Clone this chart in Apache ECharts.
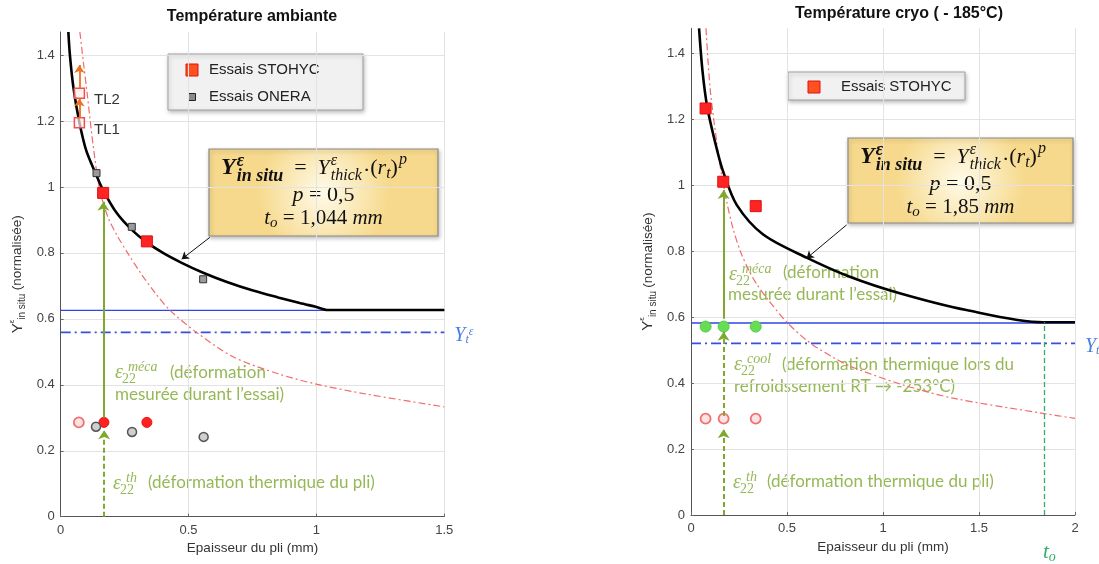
<!DOCTYPE html>
<html>
<head>
<meta charset="utf-8">
<title>Y in situ</title>
<script src="https://cdn.jsdelivr.net/npm/echarts@6.0.0/dist/echarts.min.js"></script>
<style>
  html, body { margin: 0; padding: 0; background: #fff; }
  #main { width: 1099px; height: 564px; }
</style>
</head>
<body>
<div id="main"></div>
<script>
// ---- ticks ----
const xTicksAmb = [0, 0.5, 1, 1.5]
const xTicksCryo = [0, 0.5, 1, 1.5, 2]
const yTicks = [0, 0.2, 0.4, 0.6, 0.8, 1, 1.2, 1.4]

// ---- Température ambiante ----
const ambFitCurve = [[0.030, 1.47], [0.036, 1.40], [0.050, 1.30], [0.072, 1.20], [0.100, 1.11], [0.140, 1.035], [0.166, 0.99], [0.220, 0.920], [0.278, 0.870], [0.337, 0.832], [0.400, 0.800], [0.473, 0.770], [0.557, 0.740], [0.650, 0.712], [0.752, 0.686], [0.850, 0.665], [0.935, 0.648], [1.000, 0.636], [1.045, 0.627], [1.5, 0.627]]
const ambRefCurve = [[0.075, 1.47], [0.090, 1.37], [0.104, 1.28], [0.127, 1.125], [0.153, 0.99], [0.185, 0.908], [0.219, 0.855], [0.264, 0.797], [0.316, 0.735], [0.370, 0.678], [0.427, 0.626], [0.531, 0.559], [0.674, 0.485], [0.844, 0.435], [1.0, 0.402], [1.195, 0.372], [1.5, 0.333]]
const ambYtLine = [[0, 0.626], [1.5, 0.626]]
const ambYtDash = [[0, 0.559], [1.5, 0.559]]
const ambStohyc = [[0.166, 0.982], [0.337, 0.835]]
const tlNames = ['TL1', 'TL2']
const tlPoints = [[0.073, 1.195], [0.073, 1.284]]
const ambOnera = [[0.140, 1.042], [0.278, 0.879], [0.557, 0.720]]
const ambThOpen = [[0.071, 0.286]]
const ambThRed = [[0.169, 0.286], [0.337, 0.286]]
const ambThOnera = [[0.138, 0.273], [0.279, 0.257], [0.559, 0.242]]
const tlArrows = [[[0.073, 1.21], [0.073, 1.268]], [[0.073, 1.30], [0.073, 1.37]]]
const ambMecaArrow = [[[0.167, 0.30], [0.167, 0.955]]]
const ambThArrow = [[[0.170, 0], [0.170, 0.262]]]
const ambPointer = [[[0.583, 0.847], [0.473, 0.781]]]

// ---- Température cryo ----
const cryoFitCurve = [[0.042, 1.475], [0.060, 1.345], [0.085, 1.235], [0.134, 1.110], [0.168, 1.040], [0.238, 0.940], [0.376, 0.850], [0.602, 0.780], [0.827, 0.722], [1.087, 0.672], [1.434, 0.621], [1.833, 0.584], [2.0, 0.584]]
const cryoRefCurve = [[0.078, 1.475], [0.100, 1.29], [0.134, 1.13], [0.151, 1.06], [0.186, 0.95], [0.220, 0.866], [0.260, 0.795], [0.307, 0.735], [0.342, 0.700], [0.394, 0.658], [0.498, 0.585], [0.619, 0.522], [0.758, 0.472], [0.845, 0.447], [1.106, 0.394], [1.365, 0.354], [1.833, 0.308], [2.0, 0.293]]
const cryoYtLine = [[0, 0.582], [2, 0.582]]
const cryoYtDash = [[0, 0.52], [2, 0.52]]
const cryoStohyc = [[0.076, 1.232], [0.168, 1.01], [0.337, 0.936]]
const cryoCool = [[0.076, 0.571], [0.170, 0.571], [0.337, 0.571]]
const cryoTh = [[0.076, 0.292], [0.170, 0.292], [0.337, 0.292]]
const cryoMecaArrow = [[[0.170, 0.595], [0.170, 0.985]]]
const cryoCoolArrow = [[[0.170, 0.30], [0.170, 0.555]]]
const cryoThArrow = [[[0.170, 0], [0.170, 0.26]]]
const cryoT0Line = [[[1.84, 0], [1.84, 0.584]]]
const cryoPointer = [[[0.81, 0.879], [0.602, 0.778]]]

const GREEN = '#96b857'
const GREEN_ARROW = '#7fa82e'
const BLUE = '#4a7fe0'
const serif = '"Liberation Serif", "DejaVu Serif", serif'
const sans = '"Liberation Sans", Arial, sans-serif'
const body = 'Lato, "Open Sans", sans-serif'

var myChart = echarts.init(document.getElementById('main'))

const mctx = document.createElement('canvas').getContext('2d')
function tw(text, font) {
  mctx.font = font
  return mctx.measureText(text).width
}

function txt(x, y, text, font, color, align) {
  return {
    type: 'text', x: x, y: y, silent: true,
    style: {
      text: text, font: font, fill: color || '#000',
      textAlign: align || 'left', align: align || 'left',
      textVerticalAlign: 'middle', verticalAlign: 'middle',
    },
  }
}

// lays out a row of math pieces; stacked sup/sub share one slot
function mathLine(x0, y, pieces, color, centered) {
  const widths = pieces.map(function (p) {
    if (p.gap) return p.gap
    if (p.t) return tw(p.t, p.f)
    return Math.max(p.sup ? tw(p.sup, p.f) : 0, p.sub ? tw(p.sub, p.f) : 0)
  })
  let x = centered ? x0 - widths.reduce(function (a, b) { return a + b }, 0) / 2 : x0
  const out = []
  pieces.forEach(function (p, i) {
    if (p.t) out.push(txt(x, y + (p.dy || 0), p.t, p.f, color))
    if (p.sup) out.push(txt(x, y - (p.up || 7), p.sup, p.f, color))
    if (p.sub) out.push(txt(x, y + (p.down || 7), p.sub, p.f, color))
    x += widths[i]
  })
  return out
}

// epsilon_22 with a superscript
function eps(x, y, sup) {
  return [
    txt(x, y, 'ε', 'italic 20px ' + serif, GREEN),
    txt(x + 7, y + 6, '22', '14px ' + serif, GREEN),
    txt(x + 13, y - 6, sup, 'italic 14px ' + serif, GREEN),
  ]
}

function formulaBox(x, y, w, h, t0) {
  const F = function (s) { return s + 'px ' + serif }
  const line1 = mathLine(12, 19, [
    { t: 'Y', f: 'italic bold ' + F(24) },
    { gap: 1 },
    { sup: 'ε', sub: 'in situ', f: 'italic bold ' + F(18), up: 7, down: 8 },
    { gap: 11 },
    { t: '=', f: F(22) },
    { gap: 11 },
    { t: 'Y', f: 'italic ' + F(22) },
    { gap: 1 },
    { sup: 'ε', sub: 'thick', f: 'italic ' + F(16), up: 7, down: 8 },
    { gap: 1 },
    { t: '·', f: F(22), dy: 3 },
    { t: '(', f: F(22) },
    { t: 'r', f: 'italic ' + F(22) },
    { sub: 't', f: 'italic ' + F(16), down: 6 },
    { t: ')', f: F(22) },
    { gap: 1 },
    { sup: 'p', f: 'italic ' + F(16), up: 8 },
  ], '#111', false)
  const line2 = mathLine(w / 2, 46, [
    { t: 'p', f: 'italic ' + F(22) },
    { t: ' = 0,5', f: F(22) },
  ], '#111', true)
  const line3 = mathLine(w / 2, 69, [
    { t: 't', f: 'italic ' + F(21) },
    { sub: 'o', f: 'italic ' + F(15), down: 5 },
    { t: ' = ' + t0 + ' ', f: F(21) },
    { t: 'mm', f: 'italic ' + F(21) },
  ], '#111', true)
  return {
    type: 'group', x: x, y: y,
    children: [{
      type: 'rect', shape: { x: 0, y: 0, width: w, height: h },
      style: {
        fill: new echarts.graphic.RadialGradient(0.5, 0.5, 0.75, [
          { offset: 0, color: '#fffbea' },
          { offset: 1, color: '#f6d98c' },
        ]),
        stroke: '#8a8a8a', lineWidth: 1.2,
        shadowBlur: 4, shadowColor: 'rgba(0,0,0,0.25)', shadowOffsetX: 1, shadowOffsetY: 2,
      },
    }].concat(line1, line2, line3),
  }
}

function legendBox(x, y, w, h, items) {
  const children = [{
    type: 'rect', shape: { x: 0, y: 0, width: w, height: h },
    style: { fill: '#f1f1f1', stroke: '#a0a0a0', lineWidth: 1, shadowBlur: 4, shadowColor: 'rgba(0,0,0,0.25)', shadowOffsetX: 1, shadowOffsetY: 2 },
  }]
  items.forEach(function (it) {
    const s = it.size
    children.push({
      type: 'rect', shape: { x: it.ix - s / 2, y: it.y - s / 2, width: s, height: s },
      style: { fill: it.fill, stroke: it.stroke, lineWidth: 1 },
    })
    children.push(txt(it.tx, it.y, it.label, '15px ' + sans, '#222'))
  })
  return { type: 'group', x: x, y: y, children: children }
}

function xAxisCfg(gridIndex, max, ticks) {
  return {
    type: 'value', gridIndex: gridIndex, min: 0, max: max, interval: 0.5,
    name: 'Epaisseur du pli (mm)', nameLocation: 'middle', nameGap: 24,
    nameTextStyle: { fontSize: 13.5, color: '#333', fontFamily: sans },
    axisLine: { show: true, onZero: false, lineStyle: { color: '#555', width: 1 } },
    axisTick: { show: true, inside: true, length: 3, customValues: ticks, lineStyle: { color: '#666' } },
    axisLabel: { margin: 7, fontSize: 13, color: '#444', fontFamily: sans, customValues: ticks },
    splitLine: { show: true, lineStyle: { color: '#e3e3e3', width: 1 } },
  }
}

function yAxisCfg(gridIndex, max) {
  return {
    type: 'value', gridIndex: gridIndex, min: 0, max: max, interval: 0.2,
    name: '{y|Y}{e|ε}{s|in situ} {n|(normalisée)}',
    nameLocation: 'middle', nameGap: 33, nameRotate: 90,
    nameTextStyle: {
      color: '#333', fontFamily: sans,
      rich: {
        y: { fontSize: 15, lineHeight: 20, color: '#333', fontFamily: sans },
        e: { fontSize: 8, verticalAlign: 'top', color: '#333', fontFamily: sans },
        s: { fontSize: 10, verticalAlign: 'bottom', color: '#333', fontFamily: sans },
        n: { fontSize: 13.5, color: '#333', fontFamily: sans },
      },
    },
    axisLine: { show: true, onZero: false, lineStyle: { color: '#555', width: 1 } },
    axisTick: { show: true, inside: true, length: 3, customValues: yTicks, lineStyle: { color: '#666' } },
    axisLabel: { margin: 6, fontSize: 13, color: '#444', fontFamily: sans, customValues: yTicks },
    splitLine: { show: true, lineStyle: { color: '#e3e3e3', width: 1 } },
  }
}

function lineSeries(g, data, color, width, type, extra) {
  return Object.assign({
    type: 'line', xAxisIndex: g, yAxisIndex: g, data: data, showSymbol: false, symbol: 'none',
    silent: true, lineStyle: { color: color, width: width, type: type }, itemStyle: { color: color },
  }, extra || {})
}

function scatterSeries(g, data, symbol, size, fill, stroke, bw, extra) {
  return Object.assign({
    type: 'scatter', xAxisIndex: g, yAxisIndex: g, data: data, symbol: symbol, symbolSize: size,
    silent: true, z: 4, itemStyle: { color: fill, borderColor: stroke, borderWidth: bw, opacity: 1 },
  }, extra || {})
}

function arrowSeries(g, segs, color, width, dashed, size) {
  return {
    type: 'lines', coordinateSystem: 'cartesian2d', xAxisIndex: g, yAxisIndex: g,
    symbol: ['none', size ? 'arrow' : 'none'], symbolSize: size || 0, silent: true, z: 5,
    lineStyle: { color: color, width: width, type: dashed ? [5, 3] : 'solid', opacity: 1, curveness: 0 },
    data: segs.map(function (s) { return { coords: s } }),
  }
}

const ytLabel = {
  show: true, distance: 10, offset: [0, 3],
  formatter: '{y|Y}{s|t}{e|ε}',
  rich: {
    y: { fontFamily: serif, fontStyle: 'italic', fontSize: 20, color: BLUE },
    s: { fontFamily: serif, fontStyle: 'italic', fontSize: 12, color: BLUE, verticalAlign: 'bottom' },
    e: { fontFamily: serif, fontStyle: 'italic', fontSize: 12, color: BLUE, verticalAlign: 'top' },
  },
}

const curveSmooth = { smooth: 0.3 }

var option = {
  animation: false,
  backgroundColor: '#fff',
  title: [
    { text: 'Température ambiante', left: 247, top: 4, textAlign: 'center', textStyle: { fontSize: 16, fontWeight: 'bold', color: '#111', fontFamily: sans } },
    { text: 'Température cryo ( - 185°C)', left: 894, top: 1, textAlign: 'center', textStyle: { fontSize: 16, fontWeight: 'bold', color: '#111', fontFamily: sans } },
  ],
  grid: [
    { left: 60.7, top: 32, width: 383.6, height: 484.7 },
    { left: 691, top: 28.3, width: 384, height: 486.7 },
  ],
  xAxis: [xAxisCfg(0, 1.5, xTicksAmb), xAxisCfg(1, 2, xTicksCryo)],
  yAxis: [yAxisCfg(0, 1.47), yAxisCfg(1, 1.475)],
  series: [
    // ambiante
    lineSeries(0, ambYtLine, '#2f45e8', 1.3, 'solid'),
    lineSeries(0, ambYtDash, '#3a4fe0', 1.6, [10, 4, 2, 4], { endLabel: ytLabel }),
    lineSeries(0, ambRefCurve, '#f26a6a', 1.2, [7, 3, 2, 3], curveSmooth),
    lineSeries(0, ambFitCurve, '#000', 2.6, 'solid', Object.assign({ z: 3 }, curveSmooth)),
    arrowSeries(0, ambMecaArrow, GREEN_ARROW, 2, false, 9),
    arrowSeries(0, ambThArrow, GREEN_ARROW, 2, true, 9),
    arrowSeries(0, tlArrows, '#f07020', 1.8, false, 8),
    arrowSeries(0, ambPointer, '#111', 1, false, 7),
    scatterSeries(0, ambStohyc, 'rect', 11, '#ff2424', '#dd1010', 1),
    scatterSeries(0, tlPoints.map(function (p, i) { return { name: tlNames[i], value: p } }), 'rect', 10, 'rgba(255,240,240,0.7)', '#f05050', 1.5, {
      label: { show: true, position: 'right', distance: 9, offset: [0, 7], formatter: '{b}', fontSize: 15, color: '#333', fontFamily: sans },
    }),
    scatterSeries(0, ambOnera, 'rect', 7, '#9a9a9a', '#333', 1),
    scatterSeries(0, ambThOpen, 'circle', 10, '#fde3e3', '#f07070', 1.8),
    scatterSeries(0, ambThRed, 'circle', 10, '#ff2020', '#ee1010', 1),
    scatterSeries(0, ambThOnera, 'circle', 9, '#cfcfcf', '#555', 1.5),
    // cryo
    lineSeries(1, cryoYtLine, '#2f45e8', 1.5, 'solid'),
    lineSeries(1, cryoYtDash, '#3a4fe0', 1.6, [10, 4, 2, 4], { endLabel: ytLabel }),
    lineSeries(1, cryoRefCurve, '#f26a6a', 1.2, [7, 3, 2, 3], curveSmooth),
    lineSeries(1, cryoFitCurve, '#000', 2.6, 'solid', Object.assign({ z: 3 }, curveSmooth)),
    arrowSeries(1, cryoMecaArrow, GREEN_ARROW, 2, false, 9),
    arrowSeries(1, cryoCoolArrow, GREEN_ARROW, 2, true, 9),
    arrowSeries(1, cryoThArrow, GREEN_ARROW, 2, true, 9),
    arrowSeries(1, cryoT0Line, '#2fae6a', 1.3, true, 0),
    arrowSeries(1, cryoPointer, '#111', 1, false, 7),
    scatterSeries(1, cryoStohyc, 'rect', 11, '#ff2424', '#dd1010', 1),
    scatterSeries(1, cryoCool, 'circle', 11, '#66dd55', '#55cc44', 1),
    scatterSeries(1, cryoTh, 'circle', 10, '#fde3e3', '#f07070', 1.8),
  ],
  graphic: [
    legendBox(168, 54, 195, 56, [
      { ix: 24, tx: 41, y: 16, size: 12, fill: '#ff5020', stroke: '#e01010', label: 'Essais STOHYC' },
      { ix: 24, tx: 41, y: 43, size: 7, fill: '#8a8a8a', stroke: '#222', label: 'Essais ONERA' },
    ]),
    legendBox(788, 72, 177, 28, [
      { ix: 26, tx: 53, y: 15, size: 12, fill: '#ff5020', stroke: '#e01010', label: 'Essais STOHYC' },
    ]),
    formulaBox(209, 149, 229, 87, '1,044'),
    formulaBox(848, 138, 225, 85, '1,85'),
  ]
    .concat(eps(115, 373, 'méca'))
    .concat([
      txt(170, 373, '(déformation', '17px ' + body, GREEN),
      txt(115, 395, 'mesurée durant l’essai)', '17px ' + body, GREEN),
    ])
    .concat(eps(113, 484, 'th'))
    .concat([txt(148, 483, '(déformation thermique du pli)', '17px ' + body, GREEN)])
    .concat(eps(729, 275, 'méca'))
    .concat([
      txt(783, 273, '(déformation', '17px ' + body, GREEN),
      txt(728, 295, 'mesurée durant l’essai)', '17px ' + body, GREEN),
    ])
    .concat(eps(734, 365, 'cool'))
    .concat([
      txt(782, 365, '(déformation thermique lors du', '17px ' + body, GREEN),
      txt(734, 387, 'refroidssement RT → -253°C)', '17px ' + body, GREEN),
    ])
    .concat(eps(733, 483, 'th'))
    .concat([txt(767, 482, '(déformation thermique du pli)', '17px ' + body, GREEN)])
    .concat(mathLine(1043, 552, [
      { t: 't', f: 'italic 21px ' + serif },
      { sub: 'o', f: 'italic 14px ' + serif, down: 5 },
    ], '#2fae6a', false)),
}

myChart.setOption(option)
</script>
</body>
</html>
